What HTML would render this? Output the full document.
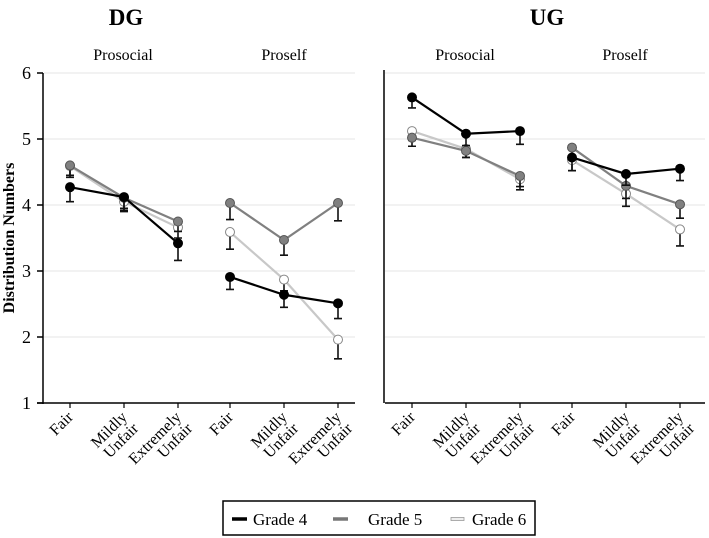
<!DOCTYPE html>
<html><head><meta charset="utf-8"><style>
body{margin:0;background:#fff}
svg{display:block;font-family:"Liberation Serif",serif}
</style></head><body>
<svg id="chart" width="709" height="538" viewBox="0 0 709 538">
<text x="126" y="25" font-size="23" font-weight="bold" text-anchor="middle">DG</text>
<text x="547" y="25" font-size="23" font-weight="bold" text-anchor="middle">UG</text>
<text x="123" y="60" font-size="16" text-anchor="middle">Prosocial</text>
<text x="284" y="60" font-size="16" text-anchor="middle">Proself</text>
<text x="465" y="60" font-size="16" text-anchor="middle">Prosocial</text>
<text x="625" y="60" font-size="16" text-anchor="middle">Proself</text>
<text transform="translate(14,238) rotate(-90)" font-size="16" font-weight="bold" text-anchor="middle">Distribution Numbers</text>
<g id="grid"></g><g id="axes"></g><g id="marks"></g>
<g>
<rect x="223" y="501" width="312" height="34" fill="#fff" stroke="#000" stroke-width="1.5"/>
<g><line x1="232" y1="519" x2="247" y2="519" stroke="#000" stroke-width="3.5"/><text x="253" y="525" font-size="17">Grade 4</text></g>
<g><line x1="333" y1="519" x2="348" y2="519" stroke="#777" stroke-width="3.5"/><text x="368" y="525" font-size="17">Grade 5</text></g>
<g><rect x="451" y="517.5" width="13" height="3" fill="#eee" stroke="#999" stroke-width="0.8"/><text x="472" y="525" font-size="17">Grade 6</text></g>
</g>
</svg>
<script>
const categories=["Fair","Mildly Unfair","Extremely Unfair"];
const yTicks=[1,2,3,4,5,6];
// panels: DG prosocial, DG proself, UG prosocial, UG proself
const grade4=[[4.27,4.12,3.42],[2.91,2.64,2.51],[5.63,5.08,5.12],[4.72,4.47,4.55]];
const grade4Low=[[4.05,3.90,3.16],[2.72,2.45,2.28],[5.47,4.90,4.92],[4.52,4.30,4.37]];
const grade5=[[4.60,4.11,3.75],[4.03,3.47,4.03],[5.02,4.82,4.44],[4.87,4.29,4.01]];
const grade5Low=[[4.42,3.95,3.60],[3.78,3.24,3.76],[4.89,4.72,4.23],[4.70,4.10,3.80]];
const grade6=[[4.59,4.05,3.66],[3.59,2.87,1.96],[5.12,4.85,4.39],[4.68,4.17,3.63]];
const grade6Low=[[4.45,3.92,3.50],[3.33,2.70,1.67],[4.98,4.72,4.28],[4.52,3.98,3.38]];

const NS="http://www.w3.org/2000/svg";
const panelX0=[70,230,412,572], step=54;
function y(v){return 403-(v-1)*66;}
function x(p,i){return panelX0[p]+i*step;}
function mk(tag,attrs,parent){const e=document.createElementNS(NS,tag);for(const k in attrs)e.setAttribute(k,attrs[k]);parent.appendChild(e);return e;}
const grid=document.getElementById('grid'),axes=document.getElementById('axes'),marks=document.getElementById('marks');
yTicks.forEach(t=>{
  if(t>1){
  const g1=mk('line',{x1:44,x2:355,y1:y(t),y2:y(t),stroke:'#e4e4e4','stroke-width':1},grid);
  
  
  const g2=mk('line',{x1:385,x2:705,y1:y(t),y2:y(t),stroke:'#e4e4e4','stroke-width':1},grid);
  
  }
  const tk=mk('line',{x1:37,x2:43,y1:y(t),y2:y(t),stroke:'#000','stroke-width':1.5},axes);
  
  
  const lb=mk('text',{x:31,y:y(t)+6,'font-size':18,'text-anchor':'end'},axes);lb.textContent=t;
  
  
});
let a=mk('line',{x1:43,x2:43,y1:y(6),y2:404,stroke:'#000','stroke-width':1.5},axes);


a=mk('line',{x1:37,x2:355,y1:403,y2:403,stroke:'#000','stroke-width':1.5},axes);


a=mk('line',{x1:385,x2:705,y1:403,y2:403,stroke:'#000','stroke-width':1.5},axes);


a=mk('line',{x1:384,x2:384,y1:y(6)-3,y2:403,stroke:'#000','stroke-width':1.5},axes);


for(let p=0;p<4;p++)categories.forEach((c,i)=>{
  const xx=x(p,i);
  const tk=mk('line',{x1:xx,x2:xx,y1:403,y2:408,stroke:'#000','stroke-width':1.2},axes);
  
  
  const words=c.split(' ');
  const t=mk('text',{transform:`translate(${xx+4},${418}) rotate(-45)`,'font-size':16,'text-anchor':'end'},axes);
  
  
  words.forEach((w,k)=>{const s=mk('tspan',{x:0,dy:k?16:0},t);s.textContent=w;});
});
const series=[[grade6,grade6Low,'#c8c8c8','#fff','#888','grade-6'],[grade5,grade5Low,'#808080','#808080','#555','grade-5'],[grade4,grade4Low,'#000','#000','#000','grade-4']];
series.forEach(([vals,lows,col,fill,st,name])=>{
  for(let p=0;p<4;p++){
    const pts=vals[p].map((v,i)=>x(p,i)+','+y(v)).join(' ');
    const pl=mk('polyline',{points:pts,fill:'none',stroke:col,'stroke-width':2.2},marks);
    
    
    vals[p].forEach((v,i)=>{
      const xx=x(p,i);
      const eb=mk('path',{d:`M${xx},${y(v)}V${y(lows[p][i])}M${xx-4},${y(lows[p][i])}H${xx+4}`,stroke:'#111','stroke-width':1.6,fill:'none'},marks);
      
      
      const ci=mk('circle',{cx:xx,cy:y(v),r:4.5,fill:fill,stroke:st,'stroke-width':1},marks);
      
      
    });
  }
});
</script>
</body></html>
